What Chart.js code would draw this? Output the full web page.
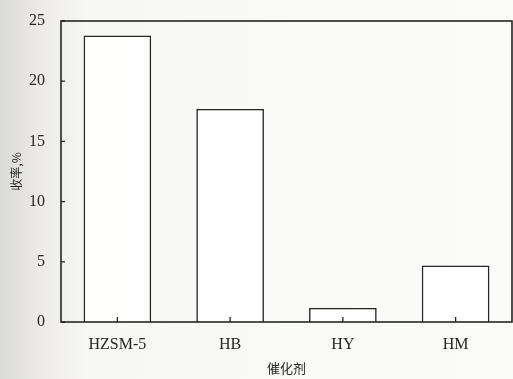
<!DOCTYPE html>
<html>
<head>
<meta charset="utf-8">
<script src="https://cdn.jsdelivr.net/npm/chart.js@4"></script>
<style>
  html, body { margin: 0; padding: 0; }
  body {
    width: 513px; height: 379px; overflow: hidden;
    background: linear-gradient(to right, #d9d9d7 0px, #ecebea 40px, #f7f7f6 90px, #fbfbfa 100%);
  }
  canvas { display: block; }
</style>
</head>
<body>
<canvas id="yieldChart" width="513" height="379"></canvas>
<script>
const catalysts = ['HZSM-5', 'HB', 'HY', 'HM'];
const yields = [23.8, 17.7, 1.17, 4.7];
const yTicks = [0, 5, 10, 15, 20, 25];

const ink = '#262626';
const serif = "'Liberation Serif', 'DejaVu Serif', serif";

// inward ticks + plot frame, like the printed figure
const frame = {
    id: 'frame',
    afterDatasetsDraw(chart) {
        const { ctx, chartArea: a, scales } = chart;
        ctx.save();
        ctx.strokeStyle = ink;
        ctx.lineWidth = 1.6;
        ctx.strokeRect(a.left, a.top, a.right - a.left, a.bottom - a.top);
        ctx.lineWidth = 1.3;
        ctx.beginPath();
        yTicks.forEach(v => {
            const y = scales.y.getPixelForValue(v);
            ctx.moveTo(a.left, y);
            ctx.lineTo(a.left + 4, y);
        });
        catalysts.forEach((c, i) => {
            const x = scales.x.getPixelForValue(i);
            ctx.moveTo(x, a.bottom);
            ctx.lineTo(x, a.bottom - 5);
        });
        ctx.stroke();
        ctx.restore();
    }
};

new Chart(document.getElementById('yieldChart'), {
    type: 'bar',
    data: {
        labels: catalysts,
        datasets: [{
            data: yields,
            backgroundColor: 'rgba(255,255,255,0.9)',
            borderColor: ink,
            borderWidth: 1.6,
            barPercentage: 0.6,
            categoryPercentage: 1
        }]
    },
    options: {
        responsive: false,
        animation: false,
        devicePixelRatio: 1,
        layout: { padding: { top: 21, right: 1, left: 0, bottom: 0 } },
        plugins: { legend: { display: false }, tooltip: { enabled: false } },
        scales: {
            x: {
                grid: { display: false },
                border: { display: false },
                ticks: { color: ink, font: { family: serif, size: 16 }, padding: 5, maxRotation: 0, autoSkip: false },
                title: {
                    display: true, text: '催化剂', color: ink,
                    font: { family: "'Noto Sans CJK SC', sans-serif", size: 13 },
                    padding: { top: 2, bottom: 3 }
                },
                afterFit(s) { s.height = 57; }
            },
            y: {
                min: 0, max: 25,
                afterBuildTicks(s) { s.ticks = yTicks.map(v => ({ value: v })); },
                grid: { display: false },
                border: { display: false },
                ticks: { color: ink, font: { family: serif, size: 16 }, padding: 8, autoSkip: false },
                title: {
                    display: true, text: '收率,%', color: ink,
                    font: { family: "'Noto Sans CJK SC', sans-serif", size: 12 },
                    padding: { top: 9 }
                },
                afterFit(s) { s.width = 61; }
            }
        }
    },
    plugins: [frame]
});
</script>
</body>
</html>
